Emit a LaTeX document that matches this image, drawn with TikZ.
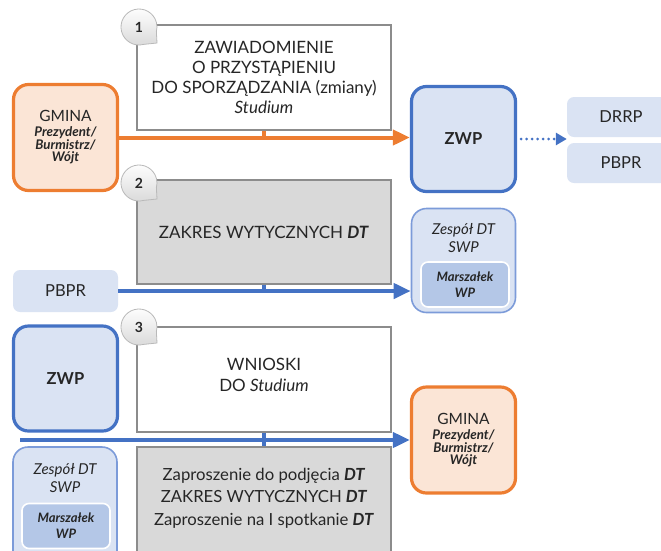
\documentclass[tikz,border=0pt]{standalone}
\usepackage{fontspec}
\setmainfont{Lato}
\usetikzlibrary{arrows.meta,calc}
\definecolor{org}{HTML}{ED7D31}
\definecolor{peach}{HTML}{FBE5D6}
\definecolor{blu}{HTML}{4472C4}
\definecolor{lblu}{HTML}{DAE3F3}
\definecolor{mblu}{HTML}{B4C7E7}
\definecolor{zblu}{HTML}{7C9BD9}
\definecolor{gfill}{HTML}{D9D9D9}
\definecolor{gline}{HTML}{8C8C8C}
\definecolor{txt}{HTML}{262626}
\tikzset{
  mainbox/.style={draw=gline, line width=1.2pt, minimum width=254pt, inner sep=0pt, align=center, text=txt, font=\fontsize{17}{20}\selectfont},
  graybox/.style={mainbox, fill=gfill},
  gminabox/.style={draw=org, line width=3.2pt, fill=peach, rounded corners=15pt, minimum width=104pt, minimum height=106pt, align=center, text=txt, inner sep=0pt},
  zwpbox/.style={draw=blu, line width=3.2pt, fill=lblu, rounded corners=15pt, minimum width=104pt, minimum height=105pt, align=center, text=txt, inner sep=0pt, font=\fontsize{16.5}{19}\selectfont\bfseries},
  tagbox/.style={fill=lblu, rounded corners=7pt, minimum width=108pt, minimum height=40pt, text=txt, inner sep=0pt, font=\fontsize{16.5}{19}\selectfont},
  zespbox/.style={draw=zblu, line width=1.6pt, fill=lblu, rounded corners=15pt, minimum width=104pt, inner sep=0pt},
  marszbox/.style={draw=white, line width=1.6pt, fill=mblu, rounded corners=7pt, minimum width=88pt, minimum height=45pt, align=center, text=txt, inner sep=0pt, font=\fontsize{13}{16}\selectfont\bfseries\itshape},
  zesptext/.style={align=center, text=txt, inner sep=0pt, font=\fontsize{15}{18}\selectfont\itshape},
  oarrow/.style={draw=org, line width=4pt, -{Triangle[length=17pt,width=15pt]}},
  barrow/.style={draw=blu, line width=4pt, -{Triangle[length=17pt,width=15pt]}},
  otick/.style={draw=org, line width=4pt},
  btick/.style={draw=blu, line width=4pt},
  numbubble/.style={draw=gray!55, line width=0.8pt, top color=white, bottom color=gray!30},
  numtext/.style={text=txt, font=\fontsize{14}{16}\selectfont\bfseries, inner sep=0pt}
}
\newcommand{\bubble}[3]{%
  \path[numbubble] ($(#1)+(75:18)$) arc[start angle=75, end angle=375, radius=18] -- ($(#1)+(18,16)$) -- cycle;
  \node[numtext] (#3) at (#1) {#2};
}
\newcommand{\gminatext}{{\fontsize{15.5}{18}\selectfont GMINA}\\[3pt]{\fontsize{13.3}{15.5}\selectfont\bfseries\itshape Prezydent/}\\{\fontsize{13.3}{15.5}\selectfont\bfseries\itshape Burmistrz/}\\{\fontsize{13.3}{15.5}\selectfont\bfseries\itshape Wójt}}
\begin{document}
\begin{tikzpicture}[x=1pt,y=-1pt]
\useasboundingbox (0,0) rectangle (661,550);
\begin{scope}
\clip (0,0) rectangle (661,550);
% main column
\node[mainbox, minimum height=105pt] (box1) at (264,77.5) {ZAWIADOMIENIE\\O PRZYSTĄPIENIU\\DO SPORZĄDZANIA (zmiany)\\\textit{Studium}};
\node[graybox, minimum height=104pt] (box2) at (264,232) {ZAKRES WYTYCZNYCH \textbf{\textit{DT}}};
\node[mainbox, minimum height=105pt] (box3) at (264,379.5) {};
\node[align=center, text=txt, inner sep=0pt, font=\fontsize{17}{21}\selectfont] (t3) at (264,375) {WNIOSKI\\DO \textit{Studium}};
\node[graybox, minimum height=120pt] (box4) at (264,507) {};
\node[align=center, text=txt, inner sep=0pt, font=\fontsize{16.7}{22.5}\selectfont] (t4) at (264,498) {Zaproszenie do podjęcia \textbf{\textit{DT}}\\ZAKRES WYTYCZNYCH \textbf{\textit{DT}}\\Zaproszenie na I spotkanie \textbf{\textit{DT}}};
% left column
\node[gminabox] (gmina1) at (65.5,137.5) {\gminatext};
\node[tagbox, minimum width=105pt, minimum height=42pt] (pbpr2) at (65.5,291) {PBPR};
\node[zwpbox] (zwp2) at (65.5,378.5) {ZWP};
\node[zespbox, minimum height=120pt] (zesp2) at (65,507) {};
\node[zesptext] (zt2) at (65,478) {Zespół DT\\SWP};
\node[marszbox] (marsz2) at (66,526) {Marszałek\\WP};
% right column
\node[zwpbox] (zwp1) at (463.5,139) {ZWP};
\node[tagbox] (drrp) at (621,117) {DRRP};
\node[tagbox] (pbpr1) at (621,163) {PBPR};
\node[zespbox, minimum height=104pt] (zesp1) at (463.5,260.5) {};
\node[zesptext] (zt1) at (463.5,238.5) {Zespół DT\\SWP};
\node[marszbox] (marsz1) at (465,284.5) {Marszałek\\WP};
\node[gminabox] (gmina2) at (463.5,440) {\gminatext};
% connectors
\draw[otick] (box1.south) -- (box1.south |- gmina1.east);
\draw[oarrow] (gmina1.east) -- (zwp1.west |- gmina1.east);
\draw[draw=blu, line width=3pt, line cap=round, dash pattern=on 0pt off 5.5pt, -{Triangle[length=11pt,width=12pt,line cap=butt]}] ($(zwp1.east)+(4,0)$) -- (zwp1.east -| drrp.west);
\draw[btick] (box2.south) -- (box2.south |- pbpr2.east);
\draw[barrow] (pbpr2.east) -- (zesp1.west |- pbpr2.east);
\coordinate (lstart) at (20,440);
\draw[btick] (box3.south) -- (box4.north);
\draw[barrow] (lstart) -- (gmina2.west |- lstart);
% bubbles
\bubble{139,27}{1}{n1}
\bubble{139,183}{2}{n2}
\bubble{139,327}{3}{n3}
\end{scope}
\end{tikzpicture}
\end{document}
